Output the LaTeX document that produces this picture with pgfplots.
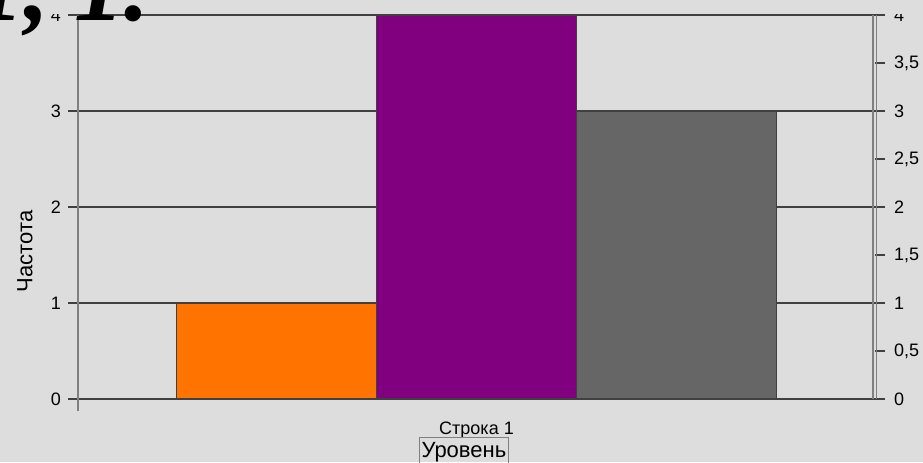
\documentclass[border=0pt]{standalone}
\usepackage{pgfplots}
\pgfplotsset{compat=1.18}
\usepackage{fontspec}
\setmainfont{Liberation Sans}
\newfontfamily\titlefont{Liberation Serif}
\definecolor{bg}{HTML}{DDDDDD}
\definecolor{barorange}{HTML}{FF7300}
\definecolor{barpurple}{HTML}{800080}
\definecolor{bargray}{HTML}{666666}
\definecolor{linedark}{HTML}{404040}
\begin{document}
\begin{tikzpicture}
\useasboundingbox (0,0) rectangle (461.5pt,231pt);
\fill[bg] (0,0) rectangle (461.5pt,231pt);
\begin{axis}[
  at={(39pt,31.5pt)}, anchor=south west,
  scale only axis, width=398.5pt, height=192pt,
  xmin=-1.9925, xmax=1.9925, ymin=0, ymax=4,
  ybar=0pt, bar width=100pt,
  axis line style={draw=none},
  xtick={0}, xticklabels={Строка 1}, xtick pos=bottom,
  x tick style={draw=none},
  xticklabel style={font=\fontsize{9}{10}\selectfont, yshift=-3pt},
  ytick={0,1,2,3,4}, ytick pos=left, tick align=outside,
  major tick length=5pt,
  y tick style={linedark, line width=0.6pt},
  ymajorgrids, grid style={linedark, line width=0.6pt},
  yticklabel style={font=\fontsize{9}{10}\selectfont},
  /pgf/number format/assume math mode=true,
  clip=false,
]
\addplot[fill=barorange, draw=linedark, line width=0.5pt] coordinates {(0,1)};
\addplot[fill=barpurple, draw=linedark, line width=0.5pt] coordinates {(0,4)};
\addplot[fill=bargray, draw=linedark, line width=0.5pt] coordinates {(0,3)};
\draw[linedark, line width=0.6pt] (rel axis cs:0,0) -- (rel axis cs:1,0);
\draw[gray, line width=0.8pt] (rel axis cs:0,1) -- ([yshift=-6pt]rel axis cs:0,0);
\end{axis}
\begin{axis}[
  at={(39pt,31.5pt)}, anchor=south west,
  scale only axis, width=398.5pt, height=192pt,
  xmin=-1.9925, xmax=1.9925, ymin=0, ymax=4,
  axis line style={draw=none},
  xtick=\empty,
  ytick={0,0.5,1,1.5,2,2.5,3,3.5,4}, ytick pos=right, yticklabel pos=right,
  tick align=outside, major tick length=5pt,
  y tick style={linedark, line width=0.6pt},
  yticklabel style={font=\fontsize{9}{10}\selectfont, /pgf/number format/use comma, /pgf/number format/fixed, xshift=1pt},
  /pgf/number format/assume math mode=true,
  clip=false,
]
\addplot[draw=none] coordinates {(0,0)};
\draw[gray, line width=0.6pt] ([xshift=-1pt]rel axis cs:1,0) -- ([xshift=-1pt]rel axis cs:1,1);
\draw[gray, line width=0.6pt] ([xshift=0.6pt]rel axis cs:1,0) -- ([xshift=0.6pt]rel axis cs:1,1);
\end{axis}
\fill[bg] (0,224pt) rectangle (461.5pt,232pt);
\node[anchor=base west, inner sep=0pt, font=\titlefont\bfseries\itshape\fontsize{50}{50}\selectfont] at (-13pt,221pt) {1, 1.};
\node[rotate=90, font=\fontsize{11}{12}\selectfont] at (12.5pt,105.25pt) {Частота};
\node[draw=gray, line width=0.5pt, inner sep=1pt, text height=9pt, text depth=4pt, anchor=north west, font=\fontsize{11}{12}\selectfont] at (209.5pt,12.5pt) {Уровень};
\end{tikzpicture}
\end{document}
